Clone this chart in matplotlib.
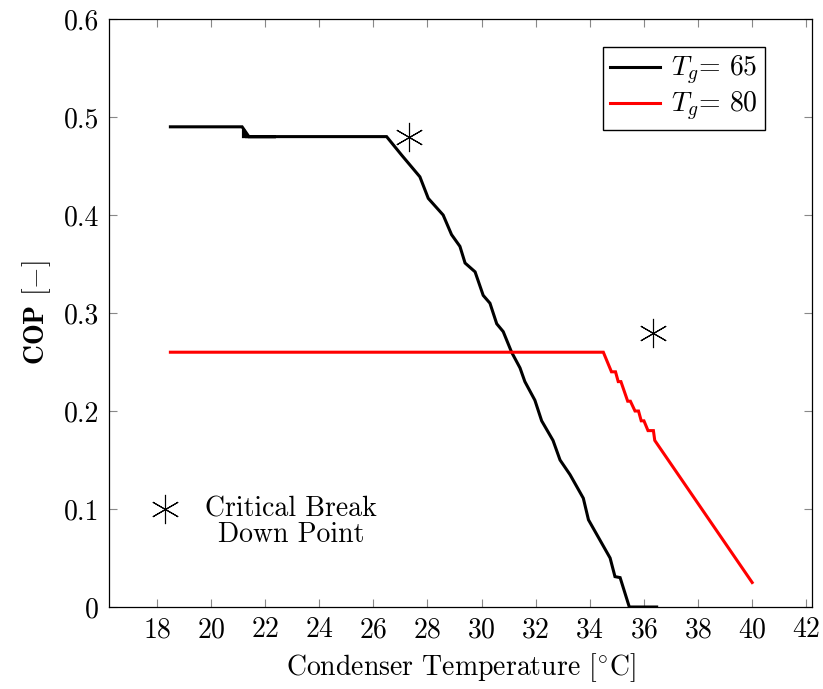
import numpy as np
import matplotlib
matplotlib.use('Agg')
import matplotlib.pyplot as plt
from matplotlib.ticker import FixedLocator, FixedFormatter

plt.rcParams['font.family'] = 'serif'
plt.rcParams['font.serif'] = ['cmr10']
plt.rcParams['mathtext.fontset'] = 'cm'
plt.rcParams['axes.formatter.use_mathtext'] = True

# T_g = 65 series (black)
t65 = [18.5, 21.15, 21.4, 22.4, 21.2, 21.2, 21.3, 26.49, 27.05, 27.72, 28.03,
       28.58, 28.89, 29.2, 29.39, 29.76, 30.06, 30.31, 30.56, 30.8, 31.11,
       31.42, 31.6, 31.97, 32.22, 32.64, 32.9, 33.27, 33.76, 33.95, 34.75,
       34.93, 35.12, 35.46, 36.47]
cop65 = [0.49, 0.49, 0.48, 0.48, 0.48, 0.487, 0.48, 0.48, 0.461, 0.439, 0.417,
         0.40, 0.38, 0.368, 0.351, 0.342, 0.318, 0.31, 0.289, 0.281, 0.26,
         0.244, 0.23, 0.211, 0.19, 0.17, 0.15, 0.135, 0.111, 0.089, 0.05,
         0.031, 0.03, 0.0, 0.0]

# T_g = 80 series (red)
t80 = [18.5, 34.5, 34.8, 34.95, 35.05, 35.15, 35.4, 35.5, 35.67, 35.8, 35.9,
       36.0, 36.15, 36.35, 36.4, 40.0]
cop80 = [0.26, 0.26, 0.24, 0.24, 0.23, 0.23, 0.21, 0.21, 0.20, 0.20, 0.19,
         0.19, 0.18, 0.18, 0.17, 0.025]

# critical break down points
crit_t = [27.3, 36.35]
crit_cop = [0.48, 0.28]

xticks = [18, 20, 22, 24, 26, 28, 30, 32, 34, 36, 38, 40, 42]
yticks = [0, 0.1, 0.2, 0.3, 0.4, 0.5, 0.6]
ytick_labels = ['0', '0.1', '0.2', '0.3', '0.4', '0.5', '0.6']

fs = 20

fig = plt.figure(figsize=(8.23, 6.89), dpi=100)
ax = fig.add_axes([0.1324, 0.1190, 0.8542, 0.8534])

l1, = ax.plot(t65, cop65, color='black', lw=2.2, solid_joinstyle='miter')
l2, = ax.plot(t80, cop80, color='red', lw=2.2, solid_joinstyle='miter')

star = (6, 2, 0)
ax.plot(crit_t, crit_cop, ls='none', marker=star, ms=21, mew=0.8, color='black')
ax.plot([18.3], [0.1], ls='none', marker=star, ms=21, mew=0.8, color='black')
ax.text(22.95, 0.087, 'Critical Break\nDown Point', ha='center', va='center',
        fontsize=fs, linespacing=0.95)

ax.set_xlim(16.23, 42.21)
ax.set_ylim(0, 0.6)
ax.xaxis.set_major_locator(FixedLocator(xticks))
ax.yaxis.set_major_locator(FixedLocator(yticks))
ax.yaxis.set_major_formatter(FixedFormatter(ytick_labels))
ax.tick_params(direction='in', length=6, width=0.8, color='#888888',
               top=True, right=True, labelsize=fs, pad=7)
for s in ax.spines.values():
    s.set_linewidth(0.9)

ax.set_xlabel(r'Condenser Temperature [$^{\circ}\mathrm{C}$]', fontsize=fs, labelpad=6)
ax.set_ylabel(r'$\mathbf{COP}$ $[-]$', fontsize=fs, labelpad=8)

ax.legend([l1, l2], [r'$T_g$= 65', r'$T_g$= 80'], loc='upper right',
          fontsize=fs, frameon=True, fancybox=False, edgecolor='black',
          framealpha=1, handlelength=1.8, handletextpad=0.4,
          borderpad=0.25, labelspacing=0.1, borderaxespad=0,
          bbox_to_anchor=(0.933, 0.952))

fig.savefig('out.png', dpi=100)
